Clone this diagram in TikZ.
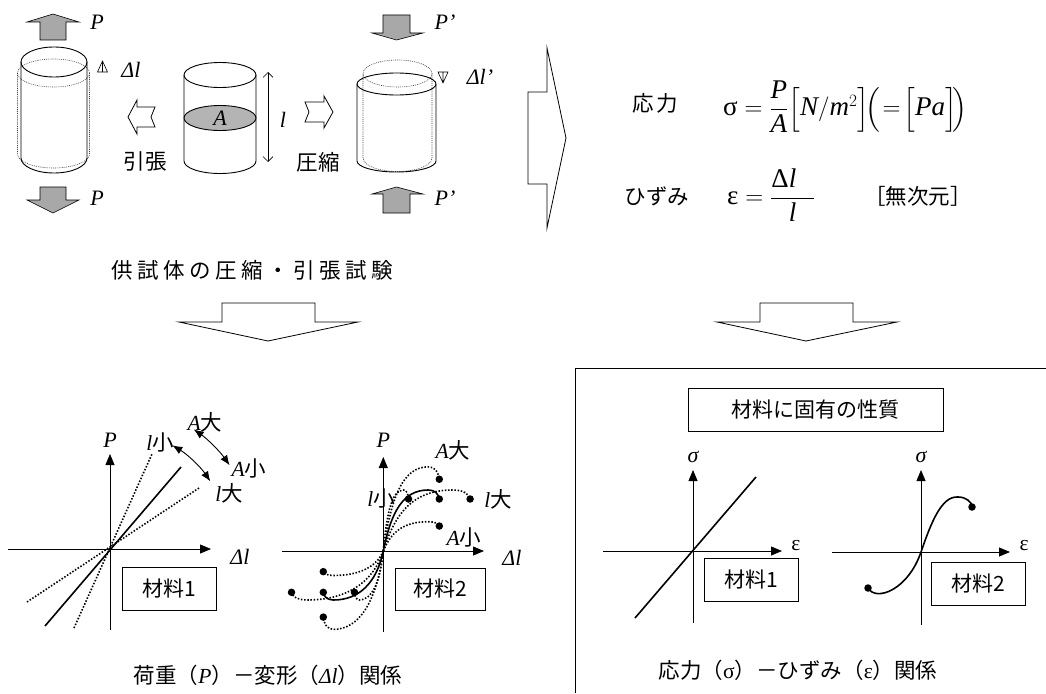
\documentclass[tikz,border=0pt]{standalone}
\usepackage{fontspec}
\usepackage{amsmath}
\setmainfont{Liberation Serif}
\newfontfamily\jp{Noto Sans CJK JP}
\usetikzlibrary{arrows.meta}

\definecolor{loadgray}{RGB}{168,168,168}
\definecolor{secgray}{RGB}{180,180,180}

\tikzset{
  cyl/.style={draw=black, line width=0.9pt},
  cyldot/.style={draw=black!75, line width=0.6pt, dash pattern=on 0.9pt off 1pt},
  loadarrow/.style={draw=black, fill=loadgray, line width=0.6pt},
  hollowarrow/.style={draw=black, fill=white, line width=0.8pt},
  axis/.style={line width=0.8pt, -{Triangle[length=11pt,width=9pt]}},
  solidcurve/.style={line width=1.6pt},
  dotcurve/.style={line width=1.6pt, dash pattern=on 1.5pt off 1.7pt},
  enddot/.style={circle, fill=black, inner sep=0pt, minimum size=7.5pt},
  jlabel/.style={font=\jp\fontsize{21.5}{26}\selectfont, inner sep=0pt},
  ilabel/.style={font=\fontsize{22}{26}\selectfont\itshape, inner sep=0pt},
  mixlabel/.style={font=\fontsize{21.5}{26}\selectfont, inner sep=0pt},
  matbox/.style={draw, line width=0.8pt, minimum width=94pt, minimum height=43pt,
                 font=\jp\fontsize{21}{25}\selectfont, inner sep=0pt},
  tinytri/.style={draw=black, line width=0.6pt},
  bendarrow/.style={line width=0.9pt, {Latex[length=10pt,width=8pt]}-{Latex[length=10pt,width=8pt]}},
}
\newcommand\gap{\hspace{4.5pt}}

\begin{document}
\begin{tikzpicture}[x=1pt,y=-1pt]
\useasboundingbox (0,0) rectangle (1046,693);

% ---------- stretched specimen (tension) ----------
\draw[cyldot] (53.5,73) ellipse (36 and 14);
\draw[cyldot] (17.5,73) -- (17.5,154) arc[start angle=180,end angle=0,x radius=36,y radius=14] -- (89.5,73);
\draw[cyl] (54,62) ellipse (33 and 15);
\draw[cyl] (21,62) -- (21,158) arc[start angle=180,end angle=0,x radius=33,y radius=15] -- (87,62);
\draw[loadarrow] (40,40) -- (40,22) -- (27,22) -- (53,14) -- (79,22) -- (66,22) -- (66,40) -- cycle;
\draw[loadarrow] (40,187) -- (40,200) -- (27,200) -- (53,213) -- (79,200) -- (66,200) -- (66,187) -- cycle;
\node[ilabel] (Ptop) at (97,22) {P};
\node[ilabel] (Pbot) at (97,198) {P};
\draw[tinytri] (97.5,72) -- (102.5,61) -- (107.5,72) -- cycle (102.5,61) -- (102.5,72);
\node[ilabel] (dl) at (131,70) {Δl};

% ---------- original specimen ----------
\draw[cyl] (220,75) ellipse (36 and 12.5);
\draw[cyl] (184,75) -- (184,161) arc[start angle=180,end angle=0,x radius=36,y radius=12.5] -- (256,75);
\draw[cyl, fill=secgray] (220,118) ellipse (36 and 12.5);
\node[ilabel] (A) at (220,118) {A};
\coordinate (ltop) at (268,72);
\coordinate (lbot) at (268,162);
\draw[line width=0.6pt, {Straight Barb[length=5pt,width=10pt]}-{Straight Barb[length=5pt,width=10pt]}] (ltop) -- (lbot);
\node[ilabel] (l) at (283,120) {l};

% hollow arrows towards both test cases
\draw[hollowarrow] (128,117) -- (137,100) -- (137,107) -- (155,107) -- (151,117) -- (155,127) -- (137,127) -- (137,134) -- cycle;
\draw[hollowarrow] (333,112) -- (324,96) -- (324,102) -- (305,102) -- (309,112) -- (305,122) -- (324,122) -- (324,128) -- cycle;
\node[jlabel] (tension) at (145,161) {引張};
\node[jlabel] (compress) at (318,162) {圧縮};

% ---------- compressed specimen ----------
\draw[cyldot] (397.5,73.5) ellipse (34.5 and 13.5);
\draw[cyldot] (363,73.5) -- (363,158) arc[start angle=180,end angle=0,x radius=34.5,y radius=13.5] -- (432,73.5);
\draw[cyl] (396.5,84) ellipse (39.5 and 11);
\draw[cyl] (357,84) -- (357,161) arc[start angle=180,end angle=0,x radius=39.5,y radius=11] -- (436,84);
\draw[loadarrow] (383,15) -- (383,33) -- (372,33) -- (396.5,40) -- (423,33) -- (410,33) -- (410,15) -- cycle;
\draw[loadarrow] (383,213) -- (383,194) -- (372,194) -- (396.5,187) -- (423,194) -- (410,194) -- (410,213) -- cycle;
\node[ilabel] (Pctop) at (445,22) {P’};
\node[ilabel] (Pcbot) at (445,198) {P’};
\draw[tinytri] (438,72) -- (443,83) -- (448,72) -- cycle (443,72) -- (443,83);
\node[ilabel] (dlc) at (480,77) {Δl’};

\node[jlabel] (cap1) at (252,270) {供\gap 試\gap 体\gap の\gap 圧\gap 縮\gap ・\gap 引\gap 張\gap 試\gap 験};

% ---------- definition arrow and formulas ----------
\draw[hollowarrow] (528,92) -- (547,92) -- (547,48) -- (566,138) -- (547,228) -- (547,184) -- (528,184) -- cycle;
\node[jlabel] (stress) at (655,103) {応\hspace{3pt}力};
\node[anchor=west, inner sep=0pt, font=\fontsize{27}{32}\selectfont] (sform) at (723,107)
  {$\text{σ}=\dfrac{\textit{P}}{\textit{A}}\Big[\textit{N}/\textit{m}^{2}\Big]\!\Big(\!=\!\Big[\textit{Pa}\Big]\!\Big)$};
\node[jlabel] (strain) at (657,196) {ひずみ};
\node[anchor=west, inner sep=0pt, font=\fontsize{27}{32}\selectfont] (eform) at (727,195)
  {$\text{ε}=\dfrac{\text{Δ}\textit{l}\hphantom{\text{Δ}}}{\textit{l}}$};
\node[jlabel] (dimless) at (918,196) {［無次元］};

% ---------- downward arrows ----------
\draw[hollowarrow] (222,303) -- (315,303) -- (315,322) -- (358,322) -- (268,341) -- (179,322) -- (222,322) -- cycle;
\draw[hollowarrow] (760,303) -- (853,303) -- (853,322) -- (897,322) -- (806,341) -- (717,322) -- (760,322) -- cycle;

% ---------- load-deformation, material 1 ----------
\coordinate (O1) at (110,549);
\draw[axis] (110,630) -- (110,454);
\draw[axis] (8,549) -- (211,549);
\draw[dotcurve] (74,628) -- (152,454);
\draw[dotcurve] (27,602) -- (199,488);
\draw[solidcurve] (45,626) -- (181,467);
\node[ilabel] (P1) at (110,440) {P};
\node[ilabel] (dl1) at (240,557) {Δl};
\node[mixlabel] (ls1) at (160,442) {\textit{l}{\jp 小}};
\node[mixlabel] (Ab1) at (205,422) {\textit{A}{\jp 大}};
\node[mixlabel] (As1) at (249,468) {\textit{A}{\jp 小}};
\node[mixlabel] (lb1) at (229,493) {\textit{l}{\jp 大}};
\path (O1) ++(-59:121) coordinate (arcAa) (O1) ++(-55:146) coordinate (arcBa);
\draw[bendarrow] (arcAa) arc[start angle=-59,end angle=-34,radius=121];
\draw[bendarrow] (arcBa) arc[start angle=-55,end angle=-35,radius=146];
\node[matbox] (m1a) at (169,588.5) {材料1};

% ---------- load-deformation, material 2 ----------
\coordinate (O2) at (383.3,551);
\draw[axis] (383.3,632) -- (383.3,457);
\draw[axis] (282,551) -- (484,551);
\begin{scope}[shift={(O2)}, yscale=-1]
  % upper branches: xs scales deformation, ys scales load
  \foreach \xs/\ys/\sty in {1/1.38/dotcurve, 1/0.48/dotcurve, 1.55/1/dotcurve, 0.45/1/dotcurve, 1/1/solidcurve} {
    \begin{scope}[xscale=\xs, yscale=\ys]
      \draw[\sty] (0,0) .. controls (8,40) and (20,61) .. (45,61) .. controls (52,61) and (55,57) .. (56,52) node[enddot]{};
    \end{scope}
  }
  \foreach \xs/\ys/\sty in {1/1.6/dotcurve, 1/0.5/dotcurve, 1.53/1/dotcurve, 0.48/1/dotcurve, 1/1/solidcurve} {
    \begin{scope}[xscale=\xs, yscale=\ys]
      \draw[\sty] (0,0) .. controls (-7,-33) and (-25,-49) .. (-50,-49) .. controls (-56,-49) and (-60,-45) .. (-60,-41.3) node[enddot]{};
    \end{scope}
  }
\end{scope}
\node[ilabel] (P2) at (383.3,440) {P};
\node[ilabel] (dl2) at (512,558) {Δl};
\node[mixlabel] (Ab2) at (453,450) {\textit{A}{\jp 大}};
\node[mixlabel] (lb2) at (498,499) {\textit{l}{\jp 大}};
\node[mixlabel] (As2) at (464,537) {\textit{A}{\jp 小}};
\node[mixlabel] (ls2) at (381,498) {\textit{l}{\jp 小}};
\node[matbox, minimum width=90pt, minimum height=42pt] (m2a) at (440,589) {材料2};

\node[mixlabel] (cap2) at (268,675) {{\jp 荷重（}\textit{P}{\jp ）－変形（}\textit{Δl}{\jp ）関係}};

% ---------- material property panel ----------
\draw[line width=0.9pt] (575,693) -- (575,368) -- (1046,368);
\node[matbox, minimum width=255pt, minimum height=43pt] (prop) at (815.5,409.5) {材料に固有の性質};

% stress-strain, material 1
\coordinate (O3) at (693,551);
\draw[axis] (693,623) -- (693,470);
\draw[axis] (603,551) -- (782,551);
\draw[solidcurve] (635,618) -- (756,477);
\node[ilabel] (s3) at (693,457) {σ};
\node[mixlabel] (e3) at (796,546) {ε};
\node[matbox] (m1b) at (751.5,579.5) {材料1};

% stress-strain, material 2
\coordinate (O4) at (921,552);
\draw[axis] (921,625) -- (921,470);
\draw[axis] (832,552) -- (1010,552);
\draw[solidcurve] (868,588) node[enddot]{} .. controls (876,602) and (908,590) .. (O4)
   .. controls (932,520) and (942,496) .. (958,497) .. controls (966,497) and (972,502) .. (972,507) node[enddot]{};
\node[ilabel] (s4) at (921,457) {σ};
\node[mixlabel] (e4) at (1024,546) {ε};
\node[matbox] (m2b) at (978.5,583.5) {材料2};

\node[mixlabel] (cap3) at (798,670) {{\jp 応力（}σ{\jp ）－ひずみ（}ε{\jp ）関係}};
\end{tikzpicture}
\end{document}
